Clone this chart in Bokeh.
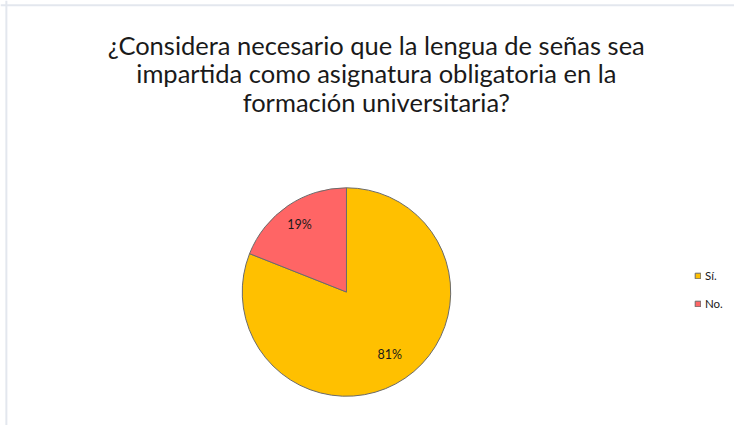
import math
from bokeh.plotting import figure
from bokeh.models import Range1d, ColumnDataSource, Legend, LegendItem, Span
from bokeh.core.properties import value
from bokeh.embed import file_html
from bokeh.resources import INLINE

# Data
categories = ["Sí.", "No."]
percent = [81, 19]
colors = ["#FFC000", "#FF6565"]
title_lines = ["¿Considera necesario que la lengua de señas sea",
               "impartida como asignatura obligatoria en la",
               "formación universitaria?"]

# the chart is laid out in the reference's 750x441 frame and drawn at 734x425
RW, RH = 750, 441
W, H = 734, 425
p = figure(width=W, height=H, output_backend="svg", toolbar_location=None,
           x_range=Range1d(0, RW), y_range=Range1d(0, RH), min_border=0)
p.axis.visible = False
p.grid.visible = False
p.outline_line_color = None
p.background_fill_color = "white"

# faint frame lines (left, top)
p.add_layout(Span(location=6, dimension="height", line_color="#e3e7ee", line_width=2))
p.add_layout(Span(location=RH - 5, dimension="width", line_color="#e3e7ee", line_width=2))

# pie geometry
cx, cy, r = 353.5, RH - 302.5, 106.5
total = sum(percent)
starts, ends, mids = [], [], []
acc = 0.0
for v in percent:
    a0 = math.pi / 2 - 2 * math.pi * acc / total
    acc += v
    a1 = math.pi / 2 - 2 * math.pi * acc / total
    starts.append(a0)
    ends.append(a1)
    mids.append((a0 + a1) / 2)

label_frac = [0.74, 0.80]
src = ColumnDataSource(dict(
    cat=categories, start=starts, end=ends, color=colors,
    x=[cx] * len(percent), y=[cy] * len(percent),
    lx=[cx + f * r * math.cos(m) for f, m in zip(label_frac, mids)],
    ly=[cy + f * r * math.sin(m) for f, m in zip(label_frac, mids)],
    lbl=[f"{v}%" for v in percent],
))

w = p.wedge(x="x", y="y", radius=r, start_angle="start", end_angle="end",
            direction="clock", fill_color="color", line_color="#6b6b6b",
            line_width=1, source=src)

p.text(x="lx", y="ly", text="lbl", source=src, text_align="center",
       text_baseline="middle", text_font=value("Lato"), text_font_size="12.5px",
       text_color="#1a1a1a")

# title (baselines)
ty = [RH - 46, RH - 75.5, RH - 105]
p.text(x=[384] * 3, y=ty, text=title_lines, text_align="center",
       text_baseline="alphabetic", text_font=value("Lato"), text_font_size="25.5px",
       text_color="#1a1a1a")

items = [LegendItem(label=c, renderers=[w], index=i) for i, c in enumerate(categories)]
legend = Legend(items=items, location=(694, 114), orientation="vertical",
                glyph_width=7, glyph_height=7, label_text_font="Lato",
                label_text_font_size="11.5px", label_text_color="#1a1a1a",
                spacing=12, padding=0, margin=0, border_line_color=None,
                background_fill_alpha=0, label_standoff=4, label_height=16)
p.add_layout(legend, "center")

open("out.html", "w").write(file_html(p, INLINE))
